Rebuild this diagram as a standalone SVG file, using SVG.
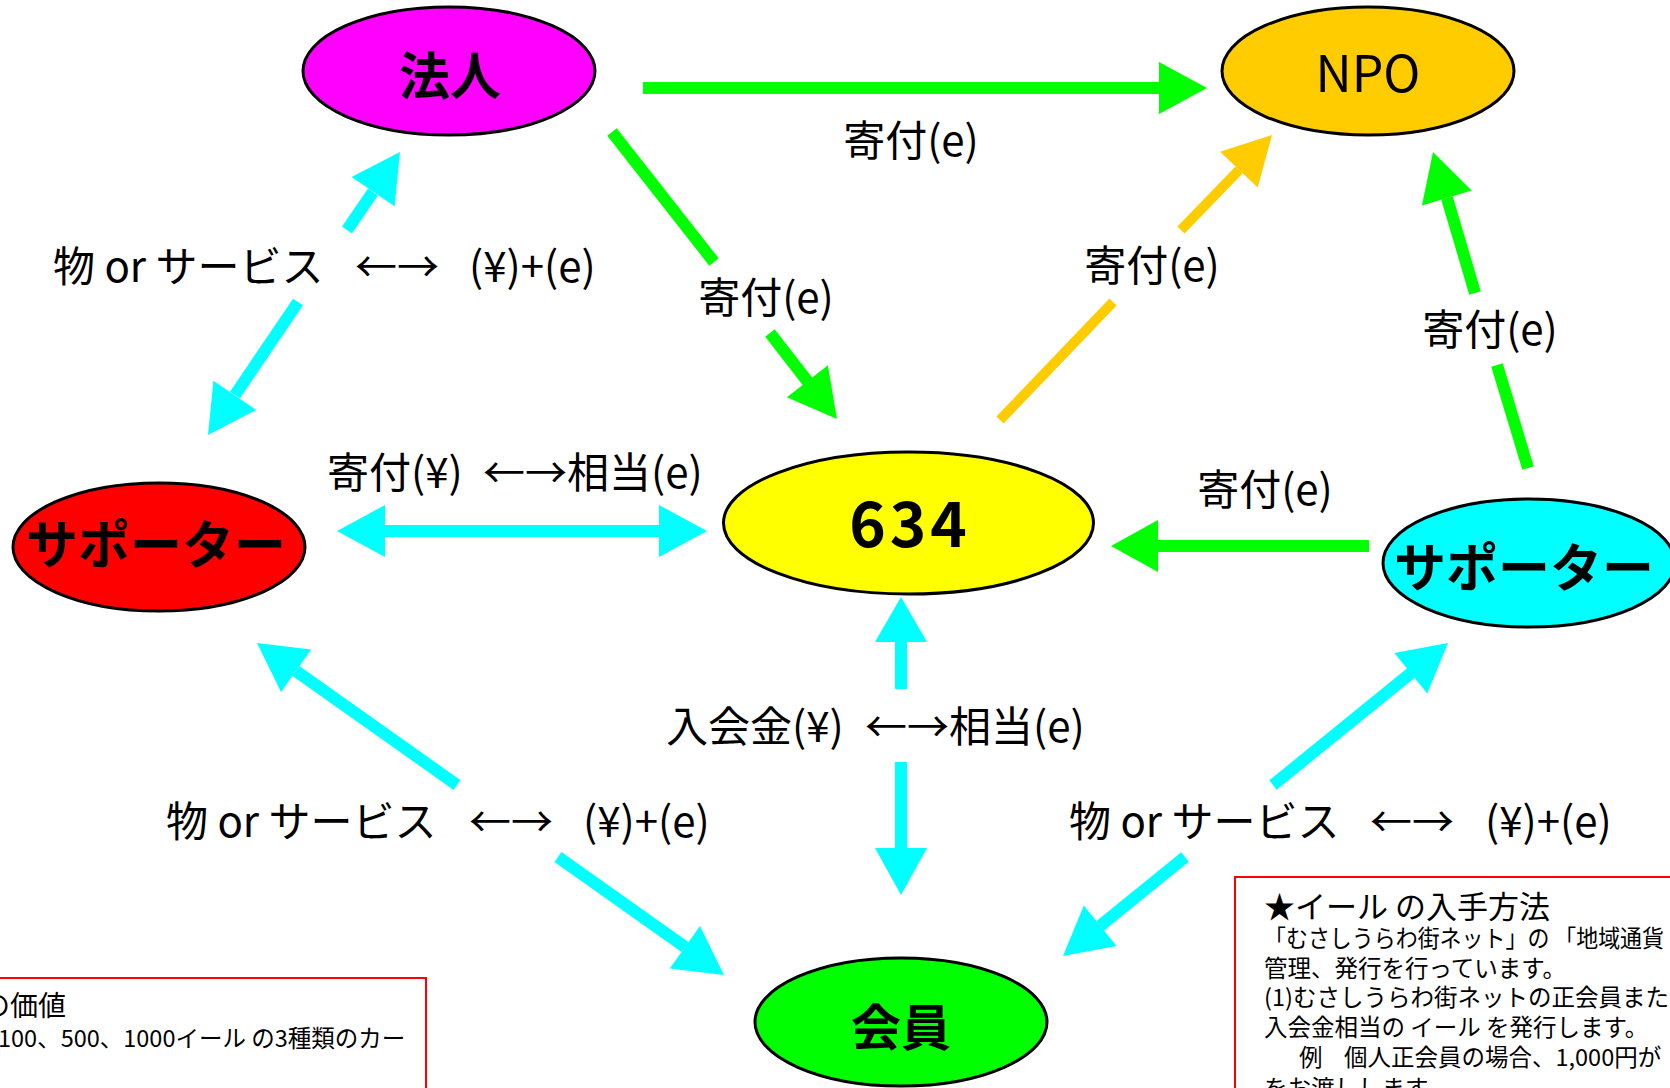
<svg xmlns="http://www.w3.org/2000/svg" width="1670" height="1088" viewBox="0 0 1670 1088">
<style>
  .bg { fill:#ffffff; }
  .node ellipse { stroke:#000000; stroke-width:3; }
  .nt { font-family:"Noto Sans CJK JP","Noto Sans",sans-serif; font-weight:700; fill:#000000; }
  .nr { font-family:"Noto Sans CJK JP","Noto Sans",sans-serif; font-weight:400; fill:#000000; }
  .lbl { font-family:"Noto Sans CJK JP","Noto Sans",sans-serif; font-size:42px; fill:#000000; }
  .txt { font-family:"Noto Sans CJK JP","Noto Sans",sans-serif; fill:#000000; }
  .lg { stroke:#00ff00; stroke-width:12; fill:none; }
  .lc { stroke:#00ffff; stroke-width:12; fill:none; }
  .lo { stroke:#ffcc00; stroke-width:10; fill:none; }
  .hg { fill:#00ff00; }
  .hc { fill:#00ffff; }
  .ho { fill:#ffcc00; }
  .box { fill:none; stroke:#ff0000; stroke-width:2; }
</style>
<rect class="bg" x="0" y="0" width="1670" height="1088"/>

<g id="connectors">
  <g id="e-houjin-npo">
    <path class="lg" d="M643,88 H1160"/>
    <polygon class="hg" points="1207,88 1159,62 1159,114"/>
    <text class="lbl" x="911" y="156" text-anchor="middle">寄付(e)</text>
  </g>
  <g id="e-houjin-634">
    <path class="lg" d="M612,132 L714,262 M770,333 L808,382"/>
    <polygon class="hg" points="837,419 786.9,397.2 827.9,365.2"/>
    <text class="lbl" x="766" y="313" text-anchor="middle">寄付(e)</text>
  </g>
  <g id="e-houjin-supporter1">
    <path class="lc" d="M373,192 L347,230 M298,302 L235,395"/>
    <polygon class="hc" points="400,152 394.6,206.3 351.6,177.1"/>
    <polygon class="hc" points="208,435 256.4,409.9 213.4,380.7"/>
    <text class="lbl" y="282"><tspan x="53">物 or サービス</tspan><tspan x="355">←→</tspan><tspan x="469">(¥)+(e)</tspan></text>
  </g>
  <g id="e-supporter1-634">
    <path class="lc" d="M384,531 H660"/>
    <polygon class="hc" points="337,531 385,505 385,557"/>
    <polygon class="hc" points="707,531 659,505 659,557"/>
    <text class="lbl" y="488"><tspan x="327">寄付(¥)</tspan><tspan x="483">←→相当(e)</tspan></text>
  </g>
  <g id="e-634-npo">
    <path class="lo" d="M1000,420 L1113,302 M1181,230 L1239,170"/>
    <polygon class="ho" points="1272,135 1257.7,187.6 1220.1,151.8"/>
    <text class="lbl" x="1152" y="281" text-anchor="middle">寄付(e)</text>
  </g>
  <g id="e-supporter2-npo">
    <path class="lg" d="M1528,468 L1497,365 M1475,293 L1447,198"/>
    <polygon class="hg" points="1433,152 1471.7,190.5 1421.9,205.5"/>
    <text class="lbl" x="1490" y="345" text-anchor="middle">寄付(e)</text>
  </g>
  <g id="e-supporter2-634">
    <path class="lg" d="M1369,546 H1157"/>
    <polygon class="hg" points="1111,546 1158,520 1158,572"/>
    <text class="lbl" x="1265" y="505" text-anchor="middle">寄付(e)</text>
  </g>
  <g id="e-634-kaiin">
    <path class="lc" d="M901,641 V689 M901,762 V849"/>
    <polygon class="hc" points="901,597 875,642 927,642"/>
    <polygon class="hc" points="901,895 875,848 927,848"/>
    <text class="lbl" y="742"><tspan x="666">入会金(¥)</tspan><tspan x="865">←→相当(e)</tspan></text>
  </g>
  <g id="e-supporter1-kaiin">
    <path class="lc" d="M296,671 L457,785 M558,857 L685,947"/>
    <polygon class="hc" points="257,643 311.2,649.6 281,692"/>
    <polygon class="hc" points="724,975 669.8,968.4 700,926"/>
    <text class="lbl" y="837"><tspan x="166">物 or サービス</tspan><tspan x="469">←→</tspan><tspan x="583">(¥)+(e)</tspan></text>
  </g>
  <g id="e-supporter2-kaiin">
    <path class="lc" d="M1411,673 L1273,785 M1185,857 L1100,926"/>
    <polygon class="hc" points="1448,643 1427.2,693.5 1394.4,653.1"/>
    <polygon class="hc" points="1063,956 1083.8,905.5 1116.6,945.9"/>
    <text class="lbl" y="837"><tspan x="1069">物 or サービス</tspan><tspan x="1370">←→</tspan><tspan x="1485">(¥)+(e)</tspan></text>
  </g>
</g>

<g id="n-houjin" class="node">
  <ellipse cx="449" cy="71" rx="146" ry="64" fill="#ff00ff"/>
  <text class="nt" x="450" y="95" font-size="51" text-anchor="middle">法人</text>
</g>
<g id="n-npo" class="node">
  <ellipse cx="1368" cy="71" rx="146" ry="64" fill="#ffcc00"/>
  <text class="nr" x="1368" y="92" font-size="50" text-anchor="middle">NPO</text>
</g>
<g id="n-supporter1" class="node">
  <ellipse cx="159" cy="547" rx="146" ry="64" fill="#ff0000"/>
  <text class="nt" x="156" y="564" font-size="52" text-anchor="middle">サポーター</text>
</g>
<g id="n-634" class="node">
  <ellipse cx="908.5" cy="523" rx="185" ry="71" fill="#ffff00"/>
  <text class="nt" x="910" y="547" font-size="62" letter-spacing="4" text-anchor="middle">634</text>
</g>
<g id="n-supporter2" class="node">
  <ellipse cx="1529" cy="563" rx="146" ry="64" fill="#00ffff"/>
  <text class="nt" x="1394" y="587" font-size="52">サポーター</text>
</g>
<g id="n-kaiin" class="node">
  <ellipse cx="901" cy="1022" rx="146" ry="64" fill="#00ff00"/>
  <text class="nt" x="901" y="1046" font-size="50" text-anchor="middle">会員</text>
</g>

<g id="box-left">
  <rect class="box" x="-10" y="978" width="436" height="200"/>
  <text class="txt" x="-18" y="1016" font-size="28">の価値</text>
  <text class="txt" x="-2" y="1047" font-size="23.5">100、500、1000イール の3種類のカー</text>
</g>
<g id="box-right">
  <rect class="box" x="1235" y="877" width="500" height="300"/>
  <text class="txt" x="1264" y="918" font-size="31">★イール の入手方法</text>
  <text class="txt" x="1264" y="947" font-size="23.5" textLength="400" lengthAdjust="spacingAndGlyphs">「むさしうらわ街ネット」の 「地域通貨</text>
  <text class="txt" x="1264" y="977" font-size="23.5">管理、発行を行っています。</text>
  <text class="txt" x="1264" y="1006" font-size="23.5">(1)むさしうらわ街ネットの正会員また</text>
  <text class="txt" x="1264" y="1036" font-size="23.5">入会金相当の イール を発行します。</text>
  <text class="txt" y="1066" font-size="23.5"><tspan x="1299">例</tspan><tspan x="1344">個人正会員の場合、1,000円が</tspan></text>
  <text class="txt" x="1264" y="1097" font-size="23.5">をお渡しします。</text>
</g>
</svg>
